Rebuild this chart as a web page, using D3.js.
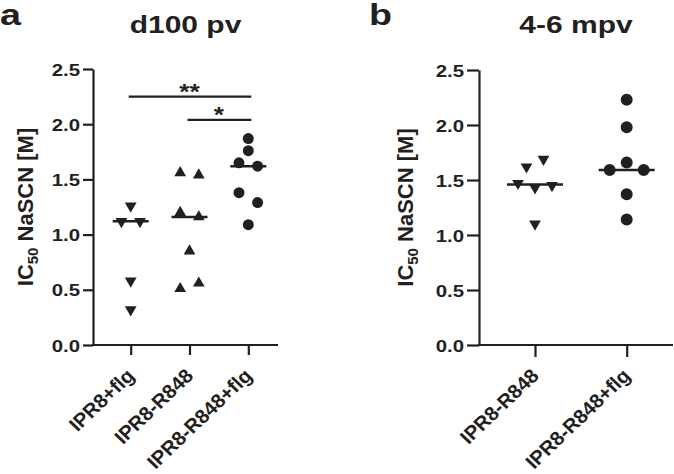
<!DOCTYPE html>
<html><head><meta charset="utf-8">
<script src="https://cdn.jsdelivr.net/npm/d3@7"></script>
<style>
body{margin:0;background:#fff;}
svg{display:block;font-family:"Liberation Sans",Arial,sans-serif;font-weight:bold;}
</style></head>
<body><svg id="c" width="674" height="474"></svg>
<script>
// ---- data ----
const panelLabels = ["a", "b"];
const titles = ["d100 pv", "4-6 mpv"];
const catsA = ["IPR8+flg", "IPR8-R848", "IPR8-R848+flg"];
const catsB = ["IPR8-R848", "IPR8-R848+flg"];
const valsA_flg = [1.26, 1.12, 1.12, 0.58, 0.32];
const valsA_R848 = [1.56, 1.54, 1.20, 1.16, 0.85, 0.51, 0.56];
const valsA_R848flg = [1.87, 1.76, 1.65, 1.62, 1.38, 1.29, 1.09];
const valsB_R848 = [1.62, 1.69, 1.47, 1.43, 1.45, 1.10];
const valsB_R848flg = [2.23, 1.98, 1.59, 1.66, 1.59, 1.37, 1.14];
const shapesA = ["down", "up", "circle"];
const shapesB = ["down", "circle"];
const yTicks = [0, 0.5, 1.0, 1.5, 2.0, 2.5];
const sigA = [{from: "IPR8+flg", to: "IPR8-R848+flg", y: 2.25, label: "**"},
              {from: "IPR8-R848", to: "IPR8-R848+flg", y: 2.04, label: "*"}];

const ink = "#231f20";
const svg = d3.select("#c");
const SX = 1.2; // horizontal text stretch

function panel(cfg) {
  const g = svg.append("g");
  const y = d3.scaleLinear().domain([0, 2.5]).range([345, cfg.yTop]);
  const x = d3.scalePoint().domain(cfg.cats).range(cfg.catRange);

  // y axis
  const ya = g.append("g").attr("transform", `translate(${cfg.axisX},0)`)
    .call(d3.axisLeft(y).tickValues(yTicks).tickFormat(d3.format(".1f")).tickSize(cfg.tick).tickSizeOuter(0).tickPadding(3));
  ya.select(".domain").attr("stroke", ink).attr("stroke-width", 2.2);
  ya.selectAll(".tick line").attr("stroke", ink).attr("stroke-width", 2.2);
  ya.selectAll(".tick text").attr("fill", ink).attr("font-size", 17).attr("font-family", null)
    .attr("dy", "0.36em")
    .attr("transform", function(){ const xx = +d3.select(this).attr("x"); return `translate(${xx*(1-SX)},0) scale(${SX},1)`; });

  // x axis
  g.append("line").attr("x1", cfg.axisX - 1).attr("x2", cfg.xEnd).attr("y1", 345).attr("y2", 345)
    .attr("stroke", ink).attr("stroke-width", 2.2);
  const xa = g.append("g").attr("transform", "translate(0,345)")
    .call(d3.axisBottom(x).tickSize(cfg.tick).tickSizeOuter(0).tickFormat(""));
  xa.select(".domain").remove();
  xa.selectAll(".tick line").attr("stroke", ink).attr("stroke-width", 2.2);
  g.selectAll("text.xl").data(cfg.cats).join("text").attr("class", "xl")
    .attr("text-anchor", "end").attr("font-size", 19.5).attr("fill", ink)
    .attr("transform", d => `translate(${x(d) + 5},${345 + 32}) scale(1.05,1) rotate(-45)`)
    .text(d => d);

  // y label
  const yl = g.append("text").attr("text-anchor", "middle").attr("font-size", 22).attr("fill", ink)
    .attr("transform", `translate(${cfg.axisX - cfg.labelOff},${y(1.25)}) rotate(-90)`);
  yl.append("tspan").text("IC");
  yl.append("tspan").text("50").attr("font-size", 15).attr("dy", 5);
  yl.append("tspan").text(" NaSCN [M]").attr("dy", -5);

  // title & panel label
  g.append("text").attr("text-anchor", "middle").attr("font-size", 24).attr("fill", ink)
    .attr("transform", `translate(${(cfg.axisX + cfg.xEnd) / 2},33) scale(1.25,1)`).text(cfg.title);
  g.append("text").attr("font-size", 29).attr("fill", ink)
    .attr("transform", `translate(${cfg.plX},25) scale(1.3,1)`).text(cfg.pl);

  // points with cluster spreading
  const sym = {
    up: d3.symbol().type(d3.symbolTriangle).size(cfg.triSize)(),
    down: d3.symbol().type(d3.symbolTriangle).size(cfg.triSize)(),
    circle: d3.symbol().type(d3.symbolCircle).size(cfg.circSize)()
  };
  cfg.series.forEach((vals, i) => {
    const cat = cfg.cats[i];
    const idx = d3.range(vals.length).sort((a, b) => d3.descending(vals[a], vals[b]) || a - b);
    const clusters = [];
    let cur = [idx[0]];
    for (let k = 1; k < idx.length; k++) {
      if (y(vals[idx[k]]) - y(vals[idx[k - 1]]) < 10.5) cur.push(idx[k]);
      else { clusters.push(cur); cur = [idx[k]]; }
    }
    clusters.push(cur);
    const off = new Array(vals.length).fill(0);
    clusters.forEach(c => {
      c.sort((a, b) => a - b);
      c.forEach((p, j) => off[p] = (j - (c.length - 1) / 2) * cfg.jit);
    });
    const shp = cfg.shapes[i];
    g.selectAll(null).data(vals).join("path")
      .attr("d", sym[shp]).attr("fill", ink)
      .attr("transform", (d, j) => `translate(${x(cat) + off[j]},${y(d)})` + (shp === "down" ? " rotate(180)" : ""));
    const med = d3.median(vals);
    g.append("line").attr("x1", x(cat) - cfg.medW).attr("x2", x(cat) + cfg.medW)
      .attr("y1", y(med)).attr("y2", y(med)).attr("stroke", ink).attr("stroke-width", 2.5);
  });

  // significance
  (cfg.sig || []).forEach(s => {
    g.append("line").attr("x1", x(s.from) - 2).attr("x2", x(s.to) + 3)
      .attr("y1", y(s.y)).attr("y2", y(s.y)).attr("stroke", ink).attr("stroke-width", 2.2);
    g.append("text").attr("text-anchor", "middle").attr("font-size", 22).attr("fill", ink)
      .attr("transform", `translate(${(x(s.from) + x(s.to)) / 2},${y(s.y) + 2}) scale(1.2,1)`).text(s.label);
  });
}

panel({pl: panelLabels[0], plX: 0, title: titles[0], cats: catsA, series: [valsA_flg, valsA_R848, valsA_R848flg],
  shapes: shapesA, axisX: 93, xEnd: 278, catRange: [130.7, 248.3], yTop: 69, tick: 10, labelOff: 60,
  jit: 18.6, medW: 18, triSize: 60, circSize: 95, sig: sigA});
panel({pl: panelLabels[1], plX: 369, title: titles[1], cats: catsB, series: [valsB_R848, valsB_R848flg],
  shapes: shapesB, axisX: 479, xEnd: 673, catRange: [535, 626.7], yTop: 70, tick: 12, labelOff: 66,
  jit: 17, medW: 28, triSize: 60, circSize: 113});
</script></body></html>
